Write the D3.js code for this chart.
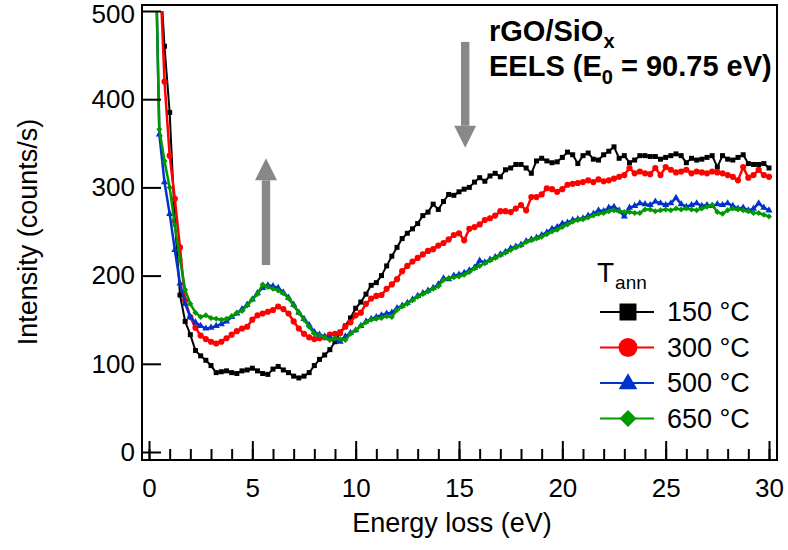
<!DOCTYPE html>
<html>
<head>
<meta charset="utf-8">
<script src="https://cdn.jsdelivr.net/npm/d3@7"></script>
<style>
  body { margin: 0; background: #fff; }
  svg { display: block; }
  text { font-family: 'Liberation Sans', Arial, sans-serif; fill: #000; }
</style>
</head>
<body>
<div id="chart"></div>
<script>
// Energy loss grid (eV)
const energy = [
  0.25, 0.5, 0.75, 1, 1.25, 1.5, 1.75, 2, 2.25, 2.5,
  2.75, 3, 3.25, 3.5, 3.75, 4, 4.25, 4.5, 4.75, 5,
  5.25, 5.5, 5.75, 6, 6.25, 6.5, 6.75, 7, 7.25, 7.5,
  7.75, 8, 8.25, 8.5, 8.75, 9, 9.25, 9.5, 9.75, 10,
  10.25, 10.5, 10.75, 11, 11.25, 11.5, 11.75, 12, 12.25, 12.5,
  12.75, 13, 13.25, 13.5, 13.75, 14, 14.25, 14.5, 14.75, 15,
  15.25, 15.5, 15.75, 16, 16.25, 16.5, 16.75, 17, 17.25, 17.5,
  17.75, 18, 18.25, 18.5, 18.75, 19, 19.25, 19.5, 19.75, 20,
  20.25, 20.5, 20.75, 21, 21.25, 21.5, 21.75, 22, 22.25, 22.5,
  22.75, 23, 23.25, 23.5, 23.75, 24, 24.25, 24.5, 24.75, 25,
  25.25, 25.5, 25.75, 26, 26.25, 26.5, 26.75, 27, 27.25, 27.5,
  27.75, 28, 28.25, 28.5, 28.75, 29, 29.25, 29.5, 29.75, 30
];

// Intensity (counts/s) for each annealing temperature
const t150 = [
  720, 560, 460, 385, 262, 178, 148, 133, 115, 109,
  104, 98, 90, 91, 92, 90, 89, 92, 93, 95,
  92, 89, 88, 94, 97, 93, 90, 86, 84, 86,
  90, 98, 105, 110, 116, 125, 136, 143, 152, 163,
  170, 179, 189, 192, 200, 211, 222, 232, 242, 248,
  253, 259, 268, 272, 281, 275, 284, 292, 291, 295,
  298, 300, 306, 311, 307, 313, 316, 312, 320, 322,
  326, 326, 322, 316, 330, 333, 330, 328, 329, 334,
  340, 337, 327, 336, 339, 332, 331, 337, 341, 346,
  333, 336, 328, 331, 336, 336, 335, 335, 332, 334,
  336, 338, 336, 328, 333, 331, 332, 334, 336, 323,
  336, 332, 331, 334, 337, 327, 326, 326, 327, 322
];
const t300 = [
  700, 563, 420, 336, 287, 232, 172, 153, 141, 132,
  128, 125, 123, 125, 129, 133, 137, 140, 142, 150,
  155, 157, 159, 161, 165, 162, 157, 148, 140, 134,
  130, 128, 129, 130, 133, 134, 135, 142, 147, 155,
  158, 168, 174, 177, 178, 185, 190, 196, 205, 211,
  216, 220, 224, 228, 230, 234, 237, 241, 246, 248,
  240, 253, 255, 258, 263, 265, 268, 273, 273, 272,
  276, 280, 274, 289, 289, 292, 299, 298, 295, 298,
  303, 304, 305, 306, 308, 306, 309, 307, 308, 310,
  312, 314, 322, 316, 318, 316, 315, 322, 314, 323,
  320, 317, 318, 320, 316, 318, 317, 316, 318, 317,
  316, 314, 312, 308, 323, 311, 314, 320, 314, 312
];
const t500 = [
  650, 360, 306, 270, 229, 191, 168, 153, 147, 143,
  140, 141, 143, 145, 148, 153, 157, 162, 167, 173,
  180, 186, 189, 188, 186, 181, 175, 167, 158, 151,
  144, 136, 133, 131, 129, 128, 125, 131, 135, 138,
  143, 148, 151, 153, 155, 157, 158, 163, 166, 169,
  173, 177, 180, 183, 186, 190, 197, 196, 200, 201,
  203, 206, 209, 217, 215, 218, 221, 224, 227, 231,
  233, 235, 239, 241, 243, 246, 249, 253, 255, 259,
  260, 263, 264, 265, 268, 270, 274, 273, 277, 278,
  274, 267, 277, 279, 282, 281, 280, 284, 282, 280,
  282, 288, 281, 278, 280, 282, 279, 280, 279, 281,
  280, 282, 279, 276, 277, 274, 276, 282, 277, 274
];
const t650 = [
  640, 366, 330, 300, 257, 218, 184, 168, 158, 153,
  155, 152, 151, 150, 151, 154, 158, 160, 166, 173,
  179, 190, 187, 185, 183, 180, 174, 166, 158, 150,
  142, 134, 132, 130, 127, 129, 128, 127, 134, 138,
  143, 147, 150, 151, 152, 154, 153, 161, 165, 168,
  172, 176, 179, 182, 185, 188, 195, 197, 198, 199,
  201, 204, 208, 211, 214, 217, 220, 223, 226, 229,
  232, 234, 238, 240, 242, 244, 247, 250, 252, 255,
  258, 261, 263, 264, 266, 268, 270, 271, 273, 274,
  273, 272, 272, 271, 271, 275, 275, 273, 274, 275,
  274, 276, 275, 276, 275, 274, 276, 278, 280, 272,
  270, 274, 276, 275, 274, 273, 271, 271, 269, 267
];

const seriesLabels = ['150 °C', '300 °C', '500 °C', '650 °C'];
const xTicks = [0, 5, 10, 15, 20, 25, 30];
const xMinorTicks = d3.range(0, 31, 1);
const yTicks = [0, 100, 200, 300, 400, 500];

// Arrows: [energy, start intensity, tip intensity]
const arrows = [[5.66, 212, 333], [15.3, 465, 345]];

const series = [
  { label: seriesLabels[0], values: t150, color: '#000000', shape: 'square',   lw: 2 },
  { label: seriesLabels[1], values: t300, color: '#ff0000', shape: 'circle',   lw: 2.5 },
  { label: seriesLabels[2], values: t500, color: '#0033cc', shape: 'triangle', lw: 2.5 },
  { label: seriesLabels[3], values: t650, color: '#009900', shape: 'diamond',  lw: 2.5 }
];

const width = 788, height = 550;
const frame = { left: 142, top: 5, right: 777, bottom: 460 };

const x = d3.scaleLinear().domain([0, 30]).range([149, 769]);
const y = d3.scaleLinear().domain([0, 500]).range([452, 11]);

const svg = d3.select('#chart').append('svg')
  .attr('width', width).attr('height', height);

svg.append('defs').append('clipPath').attr('id', 'plot-clip')
  .append('rect')
  .attr('x', frame.left).attr('y', y(500))
  .attr('width', frame.right - frame.left)
  .attr('height', frame.bottom - y(500));

function symbolPath(shape, big) {
  if (shape === 'square') return d3.symbol(d3.symbolSquare, big ? 289 : 25)();
  if (shape === 'circle') return d3.symbol(d3.symbolCircle, big ? 283 : 30)();
  if (shape === 'triangle') return d3.symbol(d3.symbolTriangle, big ? 150 : 22)();
  return d3.symbol(d3.symbolSquare, big ? 144 : 18)();
}

// Curves
const plot = svg.append('g').attr('clip-path', 'url(#plot-clip)');
const line = d3.line().x((d, i) => x(energy[i])).y(d => y(d));

series.forEach(s => {
  const g = plot.append('g');
  g.append('path')
    .attr('d', line(s.values))
    .attr('fill', 'none')
    .attr('stroke', s.color)
    .attr('stroke-width', s.lw)
    .attr('stroke-linejoin', 'round');
  g.selectAll('path.m')
    .data(s.values)
    .join('path')
    .attr('class', 'm')
    .attr('d', symbolPath(s.shape, false))
    .attr('transform', (d, i) => `translate(${x(energy[i])},${y(d)})` + (s.shape === 'diamond' ? ' rotate(45)' : ''))
    .attr('fill', s.color);
});

// Frame
svg.append('rect')
  .attr('x', frame.left).attr('y', frame.top)
  .attr('width', frame.right - frame.left)
  .attr('height', frame.bottom - frame.top)
  .attr('fill', 'none').attr('stroke', '#000').attr('stroke-width', 2);

// X axis
const xMinor = svg.append('g')
  .attr('transform', `translate(0,${frame.bottom})`)
  .call(d3.axisBottom(x).tickValues(xMinorTicks).tickSize(-11).tickFormat(''));
const xMajor = svg.append('g')
  .attr('transform', `translate(0,${frame.bottom})`)
  .call(d3.axisBottom(x).tickValues(xTicks).tickSize(-19).tickPadding(19));
// Y axis
const yAxis = svg.append('g')
  .attr('transform', `translate(${frame.left},0)`)
  .call(d3.axisLeft(y).tickValues(yTicks).tickSize(-19).tickPadding(7));

[xMinor, xMajor, yAxis].forEach(a => {
  a.select('.domain').remove();
  a.selectAll('line').attr('stroke', '#000').attr('stroke-width', 2);
  a.selectAll('text').style('font-size', '26px').attr('fill', '#000')
    .style('font-family', "'Liberation Sans', Arial, sans-serif");
});
// keep the top label inside the picture
yAxis.selectAll('text').filter(d => d === 500).attr('dy', '0.45em');

// Axis titles
svg.append('text')
  .attr('x', 452).attr('y', 532)
  .attr('text-anchor', 'middle')
  .style('font-size', '27px')
  .text('Energy loss (eV)');
svg.append('text')
  .attr('transform', 'translate(37,232) rotate(-90)')
  .attr('text-anchor', 'middle')
  .style('font-size', '27px')
  .text('Intensity (counts/s)');

// Arrows
arrows.forEach(([e, v0, v1]) => {
  const px = x(e), py0 = y(v0), py1 = y(v1);
  const dir = py1 < py0 ? -1 : 1;
  const headLen = 22, headHalf = 11, shaftHalf = 4.2;
  const pyBase = py1 - dir * headLen;
  svg.append('rect')
    .attr('x', px - shaftHalf)
    .attr('y', Math.min(py0, pyBase))
    .attr('width', shaftHalf * 2)
    .attr('height', Math.abs(pyBase - py0))
    .attr('fill', '#888888');
  svg.append('path')
    .attr('d', `M${px - headHalf},${pyBase}L${px + headHalf},${pyBase}L${px},${py1}Z`)
    .attr('fill', '#888888');
});

// Sample annotation
const note = svg.append('g').style('font-weight', 'bold').style('font-size', '29px');
const n1 = note.append('text').attr('x', 489).attr('y', 41);
n1.append('tspan').text('rGO/SiO');
n1.append('tspan').attr('dy', 7).style('font-size', '20px').text('x');
const n2 = note.append('text').attr('x', 489).attr('y', 76);
n2.append('tspan').text('EELS (E');
n2.append('tspan').attr('dy', 8).style('font-size', '20px').text('0');
n2.append('tspan').attr('dy', -8).text(' = 90.75 eV)');

// Legend
const legend = svg.append('g');
const lt = legend.append('text').attr('x', 597).attr('y', 282).style('font-size', '28px');
lt.append('tspan').text('T');
lt.append('tspan').attr('dx', 1).attr('dy', 7).style('font-size', '19px').text('ann');

const rowY = [312, 347.5, 383, 418.5];
series.forEach((s, i) => {
  const ry = rowY[i];
  legend.append('line')
    .attr('x1', 600).attr('x2', 654).attr('y1', ry).attr('y2', ry)
    .attr('stroke', s.color).attr('stroke-width', 2);
  legend.append('path')
    .attr('d', symbolPath(s.shape, true))
    .attr('transform', `translate(628,${ry + (s.shape === 'triangle' ? 1 : 0)})` + (s.shape === 'diamond' ? ' rotate(45)' : ''))
    .attr('fill', s.color);
  legend.append('text')
    .attr('x', 667).attr('y', ry + 9)
    .style('font-size', '27px')
    .text(s.label);
});
</script>
</body>
</html>
